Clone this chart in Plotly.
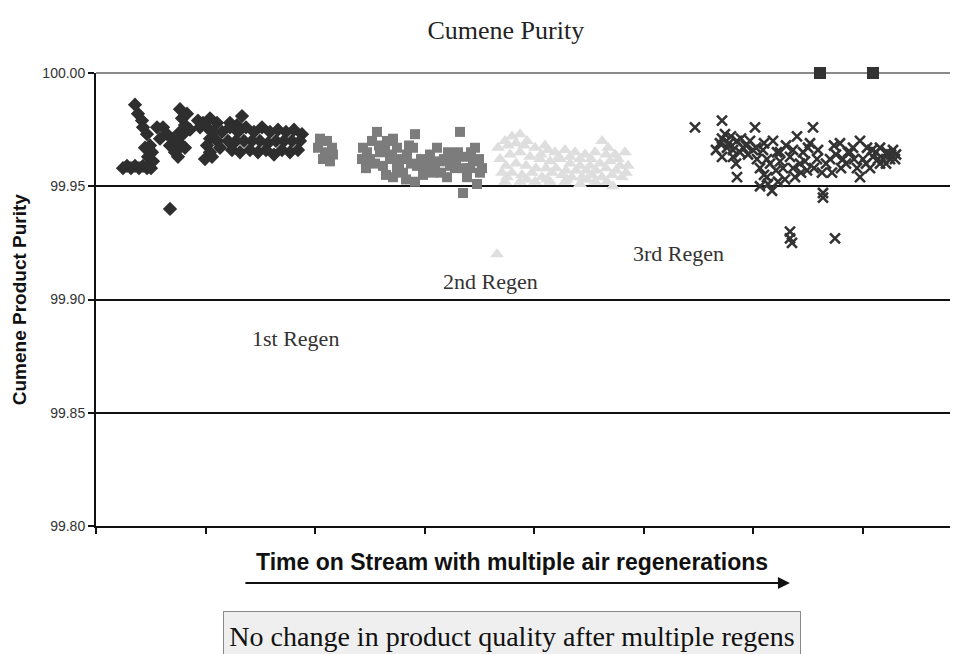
import plotly.graph_objects as go

# ---- data (time on stream in arbitrary units, purity in wt%) ----
s1_x = [27, 31, 35, 39, 43, 47, 51, 55,
        39, 42, 46, 47, 51, 54, 56, 49, 52, 57,
        61, 67, 64, 71, 74, 79, 82, 77, 84, 87, 89, 86, 84, 91, 94, 86, 89, 81,
        102, 107, 114, 121, 104, 111, 117, 114, 111, 114, 109, 116, 121, 126, 124,
        146, 134, 141,
        134, 142, 150, 158, 166, 174, 182, 190, 198, 206,
        132, 140, 148, 156, 164, 172, 180, 188, 196, 204,
        136, 144, 154, 162, 170, 178, 186, 194, 202,
        74]
s1_y = [99.958, 99.959, 99.958, 99.959, 99.958, 99.959, 99.958, 99.958,
        99.986, 99.982, 99.979, 99.976, 99.973, 99.968, 99.965, 99.967, 99.963, 99.961,
        99.976, 99.976, 99.971, 99.973, 99.968, 99.965, 99.963, 99.971, 99.974, 99.973,
        99.977, 99.980, 99.984, 99.982, 99.975, 99.968, 99.967, 99.970,
        99.979, 99.978, 99.980, 99.978, 99.976, 99.976, 99.974, 99.971, 99.968, 99.965,
        99.962, 99.963, 99.970, 99.974, 99.967,
        99.981, 99.978, 99.977,
        99.976, 99.974, 99.976, 99.974, 99.976, 99.974, 99.975, 99.974, 99.975, 99.973,
        99.970, 99.970, 99.970, 99.970, 99.970, 99.969, 99.970, 99.970, 99.970, 99.970,
        99.966, 99.965, 99.966, 99.965, 99.966, 99.964, 99.966, 99.965, 99.966,
        99.940]

s2_x = [224, 231, 222, 229, 236, 227, 234, 237,
        281, 276, 267, 266, 274, 284, 291, 297, 301, 294, 287, 301, 297, 307, 311,
        319, 317, 321, 319, 327, 331, 334, 341, 344, 337, 351, 354, 357, 364, 362,
        367, 371, 377, 379, 384, 381, 367,
        271, 279, 289, 305, 315, 325, 339, 348, 359, 374, 290, 310,
        283, 270, 296, 303, 313, 329, 345, 352, 360, 369, 375, 383, 386]
s2_y = [99.971, 99.970, 99.967, 99.965, 99.967, 99.962, 99.961, 99.964,
        99.974, 99.970, 99.967, 99.962, 99.962, 99.965, 99.970, 99.971, 99.967, 99.962,
        99.959, 99.958, 99.954, 99.956, 99.964, 99.973, 99.967, 99.959, 99.952, 99.955,
        99.961, 99.964, 99.967, 99.961, 99.956, 99.954, 99.959, 99.963, 99.974, 99.965,
        99.958, 99.954, 99.961, 99.967, 99.956, 99.951, 99.947,
        99.965, 99.960, 99.966, 99.962, 99.960, 99.962, 99.960, 99.962, 99.958, 99.958,
        99.955, 99.953,
        99.968, 99.958, 99.964, 99.960, 99.968, 99.958, 99.956, 99.965, 99.961, 99.963,
        99.965, 99.962, 99.958]

s3_x = [402, 409, 416, 424, 431, 439, 449, 459, 469, 479, 489, 499, 506, 512, 519, 529,
        404, 414, 424, 434, 444, 454, 464, 474, 484, 494, 504, 514, 524, 532,
        406, 416, 426, 436, 446, 456, 466, 476, 486, 496, 506, 516, 526,
        409, 424, 439, 454, 469, 484, 499, 517,
        412, 420, 428, 445, 452, 463, 474, 484, 495, 510, 522,
        410, 420, 430, 440, 450, 460, 470, 480, 490, 500, 510, 520, 530,
        411, 431, 451, 471, 491, 511,
        401]
s3_y = [99.967, 99.970, 99.972, 99.973, 99.970, 99.967, 99.968, 99.965, 99.966, 99.965,
        99.964, 99.965, 99.970, 99.967, 99.964, 99.965,
        99.962, 99.964, 99.965, 99.963, 99.962, 99.961, 99.962, 99.960, 99.959, 99.959,
        99.960, 99.961, 99.959, 99.959,
        99.956, 99.956, 99.955, 99.956, 99.954, 99.956, 99.955, 99.954, 99.954, 99.955,
        99.954, 99.955, 99.954,
        99.952, 99.952, 99.952, 99.952, 99.952, 99.951, 99.952, 99.950,
        99.968, 99.969, 99.968, 99.964, 99.966, 99.963, 99.963, 99.962, 99.962, 99.964,
        99.962,
        99.959, 99.960, 99.959, 99.958, 99.958, 99.958, 99.957, 99.957, 99.957, 99.957,
        99.958, 99.957, 99.956,
        99.954, 99.953, 99.953, 99.953, 99.953, 99.952,
        99.920]

s4_x = [599, 626,
        626, 631, 626, 641, 647, 654, 659, 657, 637, 641,
        664, 671, 677, 681, 671, 676, 664, 687, 694, 701, 699, 707, 717, 714, 721, 711,
        726, 727, 727,
        734, 744, 747, 754, 764, 761, 764, 771, 777, 784, 791, 797, 794, 784, 774, 736,
        694, 694, 696, 739,
        633, 637, 644, 650, 629, 661, 667, 674, 684, 690, 704, 709, 718, 740, 750, 757,
        767, 780, 787, 800,
        620, 624, 635, 645, 652, 640, 668, 680, 689, 697, 705, 712, 722, 730, 738, 745,
        752, 758, 770, 776, 782, 790, 795, 799, 660, 668, 684, 697, 682, 672]
s4_y = [99.976, 99.979,
        99.971, 99.967, 99.963, 99.970, 99.967, 99.970, 99.976, 99.966, 99.963, 99.954,
        99.958, 99.962, 99.970, 99.965, 99.954, 99.948, 99.950, 99.958, 99.963, 99.972,
        99.954, 99.965, 99.976, 99.969, 99.962, 99.957, 99.956, 99.947, 99.945,
        99.962, 99.969, 99.962, 99.965, 99.970, 99.958, 99.954, 99.967, 99.963, 99.967,
        99.965, 99.966, 99.962, 99.960, 99.958, 99.956,
        99.930, 99.927, 99.925, 99.927,
        99.969, 99.966, 99.965, 99.968, 99.973, 99.962, 99.966, 99.960, 99.961, 99.968,
        99.960, 99.961, 99.958, 99.964, 99.960, 99.967, 99.962, 99.965, 99.962, 99.964,
        99.966, 99.969, 99.972, 99.971, 99.964, 99.960, 99.955, 99.957, 99.953, 99.958,
        99.956, 99.967, 99.966, 99.960, 99.968, 99.958, 99.965, 99.962, 99.960, 99.966,
        99.962, 99.960, 99.964, 99.962, 99.967, 99.969, 99.965, 99.966, 99.952, 99.951]

cap_x = [724, 777]
cap_y = [100.00, 100.00]

y_ticks = [99.80, 99.85, 99.90, 99.95, 100.00]
y_tick_text = ["99.80", "99.85", "99.90", "99.95", "100.00"]

regen_labels = ["1st Regen", "2nd Regen", "3rd Regen"]
regen_x = [199, 394, 582]
regen_y = [99.883, 99.908, 99.9205]

# ---- figure ----
fig = go.Figure()
fig.add_trace(go.Scatter(x=s1_x, y=s1_y, mode="markers",
                         marker=dict(symbol="diamond", size=11, color="#2e2e2e")))
fig.add_trace(go.Scatter(x=s2_x, y=s2_y, mode="markers",
                         marker=dict(symbol="square", size=10, color="#7c7c7c")))
fig.add_trace(go.Scatter(x=s3_x, y=s3_y, mode="markers",
                         marker=dict(symbol="triangle-up", size=12, color="#dedede")))
fig.add_trace(go.Scatter(x=s4_x, y=s4_y, mode="markers",
                         marker=dict(symbol="x-thin", size=10, color="#333333",
                                     line=dict(color="#333333", width=2.6))))
fig.add_trace(go.Scatter(x=cap_x, y=cap_y, mode="markers", cliponaxis=False,
                         marker=dict(symbol="square", size=12, color="#333333")))

for t, xx, yy in zip(regen_labels, regen_x, regen_y):
    fig.add_annotation(x=xx, y=yy, text=t, showarrow=False,
                       font=dict(family="Liberation Serif", size=22, color="#333333"))

fig.add_shape(type="line", xref="paper", yref="paper", x0=0, x1=1, y0=1, y1=1,
              line=dict(color="#8a8a8a", width=2), layer="between")

# y-axis title
fig.add_annotation(xref="paper", yref="paper", x=-0.0885, y=0.50, xanchor="center", yanchor="middle",
                   text="<b>Cumene Product Purity</b>", textangle=-90, showarrow=False,
                   font=dict(family="Liberation Sans", size=19, color="#111111"))
# x-axis title
fig.add_annotation(xref="paper", yref="paper", x=0.4826, y=-0.0795, xanchor="center", yanchor="middle",
                   text="<b>Time on Stream with multiple air regenerations</b>",
                   showarrow=False, font=dict(family="Liberation Sans", size=23, color="#111111"))
# arrow
fig.add_annotation(xref="paper", yref="paper", x=0.805, y=-0.126, text="",
                   showarrow=True, axref="pixel", ayref="pixel", ax=-546, ay=0,
                   arrowhead=2, arrowsize=1.2, arrowwidth=2, arrowcolor="#111111")
# box note
fig.add_annotation(xref="paper", yref="paper", x=0.4826, y=-0.243, xanchor="center", yanchor="middle",
                   text="No change in product quality after multiple regens",
                   showarrow=False, width=574, height=46, bgcolor="#efefef",
                   bordercolor="#8a8a8a", borderwidth=1,
                   font=dict(family="Liberation Serif", size=28, color="#111111"))

fig.update_layout(
    width=950, height=646,
    margin=dict(l=88, r=0, t=65, b=128),
    paper_bgcolor="white", plot_bgcolor="white",
    showlegend=False,
    title=dict(text="Cumene Purity", x=0.524, xanchor="center", y=0.966, yanchor="middle",
               font=dict(family="Liberation Serif", size=26, color="#222222")),
    xaxis=dict(range=[0, 862], tick0=0, dtick=109.5, showticklabels=False,
               ticks="outside", ticklen=6, tickwidth=2, tickcolor="#111111",
               showgrid=False, zeroline=False, showline=True, linecolor="#111111", linewidth=2),
    yaxis=dict(range=[99.80, 100.00], tickvals=y_ticks, ticktext=y_tick_text,
               ticks="outside", ticklen=6, tickwidth=2, tickcolor="#111111",
               tickfont=dict(family="Liberation Sans", size=14, color="#333333"),
               showgrid=True, gridcolor="#111111", gridwidth=2,
               zeroline=False, showline=True, linecolor="#111111", linewidth=2),
)

fig.write_html("out.html")
